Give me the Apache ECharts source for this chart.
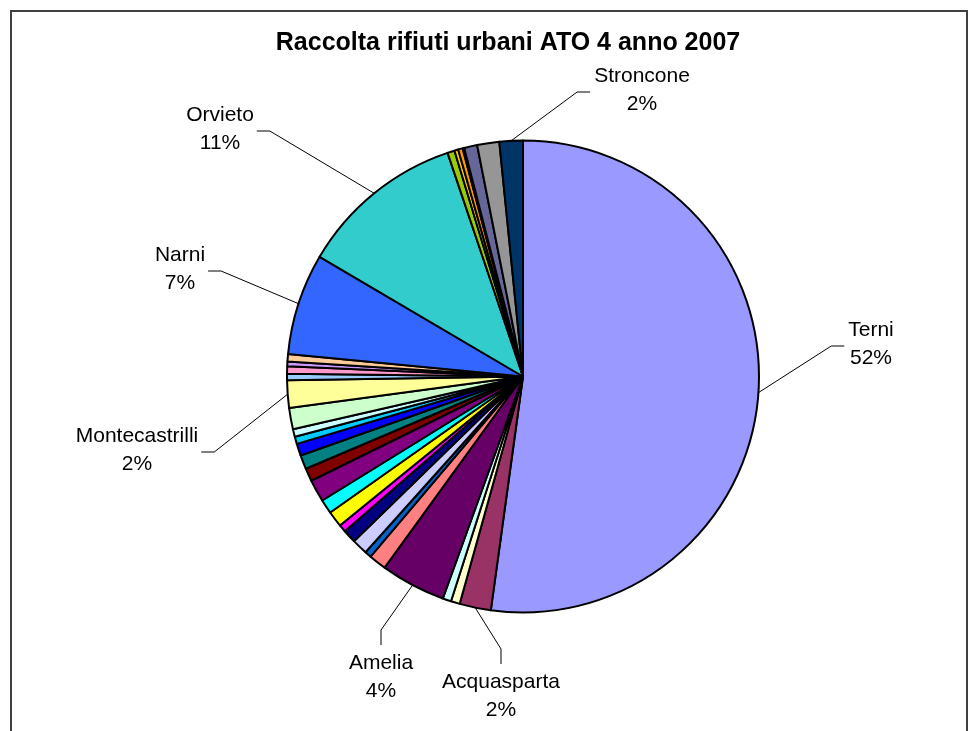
<!DOCTYPE html>
<html>
<head>
<meta charset="utf-8">
<title>Raccolta rifiuti urbani ATO 4 anno 2007</title>
<script src="https://cdn.jsdelivr.net/npm/echarts@6/dist/echarts.min.js"></script>
<style>
  html, body { margin: 0; padding: 0; background: #fff; }
  #main { width: 978px; height: 731px; }
</style>
</head>
<body>
<div id="main"></div>
<script>
  // comuni, in the order the slices run clockwise from 12 o'clock
  var comuni = [
    'Terni', 'Acquasparta', 'Allerona', 'Alviano', 'Amelia', 'Arrone',
    'Attigliano', 'Avigliano Umbro', 'Baschi', "Calvi dell'Umbria",
    'Castel Giorgio', 'Castel Viscardo', 'Fabro', 'Ferentillo', 'Ficulle',
    'Giove', 'Guardea', 'Lugnano in Teverina', 'Montecchio', 'Montecastrilli',
    'Montefranco', 'Montegabbione', "Monteleone d'Orvieto", 'Otricoli',
    'Narni', 'Orvieto', 'Parrano', 'Penna in Teverina', 'Polino', 'Porano',
    'San Gemini', 'San Venanzo', 'Stroncone'
  ];
  var quota = [
    52.08, 2.14, 0.61, 0.58, 4.45, 1.20,
    0.45, 1.08, 0.91, 0.51,
    1.09, 0.97, 1.52, 0.89, 0.96,
    0.82, 0.50, 0.52, 1.45, 1.87,
    0.45, 0.50, 0.31, 0.51,
    6.94, 11.33, 0.49, 0.26, 0.31, 0.11,
    0.89, 1.51, 1.60
  ];
  // slices that carry a label
  var etichette = ['Terni', 'Acquasparta', 'Amelia', 'Montecastrilli', 'Narni', 'Orvieto', 'Stroncone'];

  // excel 2003 chart palette
  var palette = [
    '#9999FF', '#993366', '#FFFFCC', '#CCFFFF', '#660066', '#FF8080', '#0066CC', '#CCCCFF',
    '#000080', '#FF00FF', '#FFFF00', '#00FFFF', '#800080', '#800000', '#008080', '#0000FF',
    '#00CCFF', '#CCFFFF', '#CCFFCC', '#FFFF99', '#99CCFF', '#FF99CC', '#CC99FF', '#FFCC99',
    '#3366FF', '#33CCCC', '#99CC00', '#FFCC00', '#FF9900', '#FF6600', '#666699', '#969696',
    '#003366'
  ];

  // where each label block sits, and on which side its leader line comes in
  var labelAt = {
    'Terni':          { x: 871, y: 344, side: 'right' },
    'Stroncone':      { x: 642, y: 90,  side: 'right' },
    'Orvieto':        { x: 220, y: 129, side: 'left' },
    'Narni':          { x: 180, y: 269, side: 'left' },
    'Montecastrilli': { x: 137, y: 450, side: 'left' },
    'Amelia':         { x: 381, y: 677, side: 'bottom' },
    'Acquasparta':    { x: 501, y: 696, side: 'bottom' }
  };

  var data = comuni.map(function (c, i) {
    var show = etichette.indexOf(c) >= 0;
    return {
      name: c,
      value: quota[i],
      label: { show: show },
      labelLine: { show: show }
    };
  });

  var chart = echarts.init(document.getElementById('main'), null, { renderer: 'canvas' });

  chart.setOption({
    animation: false,
    backgroundColor: '#fff',
    color: palette,
    title: {
      text: 'Raccolta rifiuti urbani ATO 4 anno 2007',
      left: 503,
      top: 26,
      textAlign: 'center',
      textStyle: {
        fontFamily: 'Liberation Sans, Arial, sans-serif',
        fontSize: 25,
        fontWeight: 'bold',
        color: '#000'
      }
    },
    graphic: [{
      type: 'rect',
      shape: { x: 11, y: 11, width: 956, height: 800 },
      style: { fill: 'none', stroke: '#404040', lineWidth: 2 },
      silent: true
    }],
    series: [{
      type: 'pie',
      center: [523, 376.5],
      radius: 236,
      startAngle: 90,
      clockwise: true,
      avoidLabelOverlap: false,
      emphasis: { disabled: true },
      itemStyle: { borderColor: '#000', borderWidth: 2 },
      label: {
        show: false,
        position: 'outside',
        formatter: function (p) {
          return p.name + '\n' + Math.round(p.percent) + '%';
        },
        fontFamily: 'Liberation Sans, Arial, sans-serif',
        fontSize: 21,
        lineHeight: 28,
        color: '#000',
        align: 'center'
      },
      labelLine: {
        show: false,
        lineStyle: { color: '#000', width: 1 }
      },
      labelLayout: function (p) {
        var at = labelAt[comuni[p.dataIndex]];
        if (!at || !p.labelLinePoints) return {};
        var w = p.labelRect.width, h = p.labelRect.height;
        var a = p.labelLinePoints[0];
        var end, bend;
        if (at.side === 'left') {
          end = [at.x + w / 2 + 3, at.y + 2];
          bend = [end[0] + 13, end[1]];
        } else if (at.side === 'right') {
          end = [at.x - w / 2 - 4, at.y + 2];
          bend = [end[0] - 13, end[1]];
        } else {
          end = [at.x, at.y - h / 2 - 4];
          bend = [end[0], end[1] - 15];
        }
        return {
          x: at.x,
          y: at.y,
          align: 'center',
          verticalAlign: 'middle',
          labelLinePoints: [a, bend, end]
        };
      },
      data: data
    }]
  });
</script>
</body>
</html>
